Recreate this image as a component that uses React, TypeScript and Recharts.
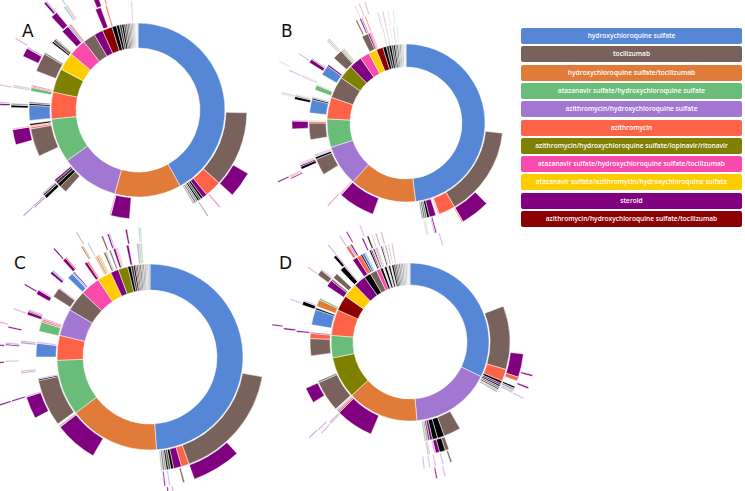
import { PieChart, Pie, Cell } from "recharts"

// colour keys used in the rings
const COLORS: Record<string, string> = {
  H: "#5687d6",
  T: "#7a625c",
  HT: "#e07b39",
  AH: "#69bd79",
  AZH: "#a277d2",
  AZ: "#ff6347",
  L: "#808000",
  P: "#f84bab",
  Y: "#ffcc00",
  S: "#800080",
  R: "#8b0000",
  k: "#000000",
  g1: "#333333",
  g2: "#555555",
  g3: "#777777",
  g4: "#999999",
  g5: "#bbbbbb",
  g6: "#dddddd",
  lp: "#e6a2d4",
  lv: "#c9a0e6",
  ls: "#f6a58c",
  lb: "#9ec0ee",
  lg: "#a8dcb0",
  lo: "#f2b27a",
}

const LEGEND_KEYS = ["H", "T", "HT", "AH", "AZH", "AZ", "L", "P", "Y", "S", "R"]
const LEGEND_LABELS = [
  "hydroxychloroquine sulfate",
  "tocilizumab",
  "hydroxychloroquine sulfate/tocilizumab",
  "atazanavir sulfate/hydroxychloroquine sulfate",
  "azithromycin/hydroxychloroquine sulfate",
  "azithromycin",
  "azithromycin/hydroxychloroquine sulfate/lopinavir/ritonavir",
  "atazanavir sulfate/hydroxychloroquine sulfate/tocilizumab",
  "atazanavir sulfate/azithromycin/hydroxychloroquine sulfate",
  "steroid",
  "azithromycin/hydroxychloroquine sulfate/tocilizumab",
]

type Seg = [number, string] // degrees, colour key ("" = empty)

// ---- panel A ----
const A1: Seg[] = [
  [151, "H"], [44.5, "HT"], [39, "AZH"], [29.5, "AH"], [18, "AZ"], [16, "L"], [12, "Y"], [11.6, "P"], [8.4, "T"], [6, "S"], [6.6, "R"],
  [3, "k"], [2, "k"], [1.5, "g1"], [1.5, "k"], [1.2, "g1"], [1.2, "g2"], [1, "g2"], [1, "g3"], [0.9, "g3"], [0.8, "g4"], [0.8, "g4"], [0.7, "g5"], [0.6, "g5"], [0.6, "g6"], [0.6, "g6"],
]
const A2: Seg[] = [
  [91.5, ""], [40.5, "T"], [9, "AZ"], [2.5, "S"], [1.2, "k"], [1, "g2"], [1, "k"], [1, "g4"], [1, "g3"], [1, "g5"],
  [34.8, ""], [10, "S"], [0.8, "lp"],
  [26.2, ""], [4, "T"], [2, "k"], [1.5, "g1"], [1, "S"],
  [15, ""], [15, "T"], [1, "AZ"], [0.8, "lp"], [1, "k"],
  [1.7, ""], [8, "H"], [1, "k"], [0.8, "g3"],
  [5.7, ""], [2, "AH"], [0.6, "AZ"], [0.6, "P"],
  [7.8, ""], [10, "T"], [0.8, "g3"],
  [6.2, ""], [1, "k"], [1.5, "T"], [0.6, "g4"],
  [4.9, ""], [4, "S"], [1.2, "lb"], [0.8, "AZ"],
  [15, ""], [3, "S"],
  [2.5, ""], [0.8, "AZ"],
  [13, ""], [0.6, "g5"],
]
const A3: Seg[] = [
  [120, ""], [12, "S"], [7.5, ""], [0.8, "lp"], [6, ""], [0.6, "g4"],
  [79.1, ""], [1.5, "k"], [1, "g2"], [0.6, "lv"],
  [25, ""], [7, "S"], [0.6, "lp"],
  [9.4, ""], [1.2, "k"], [0.8, "g4"],
  [7, ""], [0.8, "lg"], [0.6, "lp"],
  [13.6, ""], [4, "S"], [0.8, "lv"],
  [17.2, ""], [3, "S"],
  [4, ""], [0.8, "lb"], [0.6, "lg"], [0.6, "lo"],
  [12, ""], [2.5, "S"], [2.5, ""], [0.6, "AZ"], [13, ""], [0.6, "g5"],
]
const A4: Seg[] = [
  [226.5, ""], [0.6, "g4"], [0.6, "lv"],
  [44.3, ""], [0.8, "S"], [0.6, "g5"],
  [6.6, ""], [0.6, "lp"], [19.4, ""], [0.6, "lp"],
  [18, ""], [1, "S"], [0.6, "lv"], [5, ""], [0.6, "lb"],
]
const A5: Seg[] = [[227, ""], [0.6, "lv"], [44.5, ""], [0.6, "S"]]

// ---- panel B ----
const B1: Seg[] = [
  [173, "H"], [49, "HT"], [30, "AZH"], [21, "AH"], [16, "AZ"], [16, "T"], [10.5, "L"], [9.5, "S"], [7, "P"], [6, "Y"], [5, "R"],
  [2.5, "k"], [2, "g1"], [1.8, "k"], [1.5, "g2"], [1.3, "k"], [1.2, "g3"], [1.1, "g2"], [1, "g4"], [1, "g3"], [0.9, "g5"], [0.9, "g4"], [0.8, "g6"], [0.5, "g5"], [0.5, "g6"],
]
const B2: Seg[] = [
  [96, ""], [54, "T"], [10, "AZ"], [0.8, "lp"], [1.2, ""], [4, "S"], [1.5, "k"], [1.2, "g3"], [1, "g2"], [1, "g4"],
  [29.3, ""], [22, "S"], [0.8, "lp"], [0.6, "ls"],
  [14.6, ""], [10, "T"], [1.5, "k"], [0.8, "g5"], [0.8, "lv"],
  [8.9, ""], [10, "T"], [1, "AZ"], [0.8, "g6"],
  [4.2, ""], [8, "H"], [1, "k"], [0.8, "g5"],
  [4.2, ""], [3, "AH"], [0.6, "lp"],
  [6.4, ""], [6, "H"], [1, "S"],
  [5, ""], [6, "T"], [0.8, "AH"], [0.8, "lb"], [0.8, "lo"],
  [12.6, ""], [4, "T"], [1, "S"], [0.8, "P"], [0.8, "ls"],
  [6.4, ""], [0.6, "g5"], [1.5, ""], [0.6, "lv"], [1.5, ""], [0.6, "g6"], [1.5, ""], [0.6, "g5"], [1.5, ""], [0.6, "g6"],
]
const B3: Seg[] = [
  [135, ""], [15, "S"], [0.8, "ls"],
  [13.5, ""], [0.8, "S"], [0.6, "lv"], [3, ""], [0.6, "g5"], [0.6, "g6"],
  [53.1, ""], [0.8, "lp"],
  [22.2, ""], [1.5, "k"], [0.8, "S"], [0.6, "g5"], [0.6, "lp"],
  [17.5, ""], [4, "S"], [0.6, "lp"],
  [10.4, ""], [1.5, "k"], [0.8, "g4"], [0.6, "g6"],
  [9.1, ""], [0.6, "lv"], [0.6, "g6"],
  [6.8, ""], [2, "S"], [0.6, "g4"],
  [11.4, ""], [0.6, "lb"], [0.6, "lg"], [0.6, "ls"],
  [16, ""], [0.8, "T"], [1.4, ""], [0.8, "S"], [0.8, "lv"], [1, ""], [0.8, "ls"],
  [6, ""], [0.6, "g5"], [2, ""], [0.6, "lp"], [2, ""], [0.6, "g6"], [2, ""], [0.6, "g6"],
]
const B4: Seg[] = [
  [163, ""], [0.6, "lv"], [80.4, ""], [0.6, "S"], [0.6, "lp"], [0.6, "g5"],
  [37, ""], [0.6, "g6"], [0.6, "g5"], [10, ""], [0.6, "lv"], [8, ""], [0.6, "g5"],
  [33, ""], [0.6, "g6"], [1.5, ""], [0.6, "lp"], [2, ""], [0.6, "g5"],
]
const B5: Seg[] = [[245, ""], [0.6, "S"], [50, ""], [0.6, "g6"]]

// ---- panel C ----
const C1: Seg[] = [
  [176, "H"], [57, "HT"], [35, "AH"], [15.5, "AZ"], [17, "AZH"], [13.3, "T"], [12.3, "P"], [9, "Y"], [5, "S"], [6, "L"],
  [2, "k"], [1.5, "g1"], [1.2, "k"], [0.8, "R"], [1, "g2"], [1, "g3"], [1, "g2"], [1, "g4"], [0.9, "g3"], [0.9, "g4"], [0.9, "g5"], [0.8, "g4"], [0.9, "g5"],
]
const C2: Seg[] = [
  [100, ""], [60, "T"], [4, "AZ"], [4, "S"], [1.5, "k"], [1.2, "g2"], [1, "k"], [1, "g4"], [1, "g3"], [0.8, "g5"],
  [35.5, ""], [22, "S"], [1, "g5"],
  [1, ""], [24, "T"], [0.8, "k"], [0.6, "lv"],
  [10.6, ""], [7, "H"], [0.8, "lp"],
  [5.2, ""], [5, "AH"], [0.8, "HT"], [0.8, "P"], [0.6, "lv"],
  [11.8, ""], [5, "T"], [0.6, "lp"],
  [6.4, ""], [3, "H"], [0.8, "lb"], [0.6, "S"],
  [6.6, ""], [1.5, "S"], [0.8, "AZ"],
  [3.7, ""], [0.8, "lo"], [0.8, "HT"], [0.8, "lb"], [0.6, "Y"],
  [2, ""], [1, "T"], [0.6, "g5"],
  [1.4, ""], [0.8, "T"], [1.4, ""], [1.2, "S"], [0.6, "lv"], [0.6, "ls"],
  [4.4, ""], [1.2, "S"], [4, ""], [1.2, "lb"], [0.8, "ls"], [0.8, "lg"],
]
const C3: Seg[] = [
  [138, ""], [22, "S"], [4.5, ""], [0.8, "T"],
  [5.7, ""], [0.6, "lv"], [1.5, ""], [0.6, "S"],
  [68.3, ""], [10, "S"], [0.6, "lv"],
  [10, ""], [0.8, "g5"], [0.6, "lp"],
  [12, ""], [0.8, "g4"], [0.6, "lv"],
  [11.6, ""], [1.5, "S"], [0.6, "T"], [0.6, "lp"],
  [7.3, ""], [2, "S"], [0.6, "lp"],
  [8.4, ""], [1.2, "S"], [0.8, "lb"],
  [6, ""], [1.5, "S"], [0.6, "AZ"],
  [7.9, ""], [0.6, "T"], [0.6, "lo"], [2, ""], [0.6, "g5"],
  [6.2, ""], [0.8, "T"], [2, ""], [0.8, "S"], [0.6, "lp"],
  [6.8, ""], [0.8, "S"], [5, ""], [0.6, "lb"], [0.6, "lg"],
]
const C4: Seg[] = [
  [170, ""], [0.6, "lv"], [1.5, ""], [0.6, "S"],
  [79.3, ""], [0.6, "S"],
  [15.4, ""], [0.6, "g5"], [6, ""], [0.6, "S"], [0.6, "lv"],
  [5.8, ""], [0.6, "S"], [7, ""], [0.6, "lp"],
  [10, ""], [0.6, "S"], [17.8, ""], [0.6, "S"], [10.4, ""], [0.6, "g5"],
]
const C5: Seg[] = [[252, ""], [0.6, "S"], [15, ""], [0.6, "S"], [6, ""], [0.6, "S"], [8, ""], [0.6, "lp"]]

// ---- panel D ----
const D1: Seg[] = [
  [116, "H"], [59, "AZH"], [52.6, "HT"], [30.8, "L"], [16.6, "AH"], [19, "AZ"], [11.5, "R"], [10.5, "Y"], [9, "S"], [5, "k"], [5, "T"], [3, "P"],
  [2, "k"], [1.2, "g6"], [1.8, "k"], [1.2, "g6"], [1.5, "k"], [1, "g6"], [1.5, "k"], [1.2, "g1"], [1.2, "g2"], [1.2, "g3"], [1.2, "g3"], [1.2, "g4"], [1.2, "g4"], [1.2, "g5"], [1.2, "g5"], [1.2, "g6"], [1.1, "g6"],
]
const D2: Seg[] = [
  [69, ""], [37, "T"], [7, "AZ"], [1.5, "k"], [1, "S"], [1, "k"], [1, "g3"], [1, "g2"], [0.8, "g5"], [0.8, "g4"],
  [29.9, ""], [10, "T"], [4, "k"], [3, "k"], [1.5, "S"], [1.2, "g2"], [1, "g4"], [1, "g5"],
  [31.3, ""], [22, "S"], [1, "AZ"], [0.8, "g4"], [0.6, "lv"],
  [0.6, ""], [18, "T"], [1, "g3"],
  [15, ""], [10, "T"], [3, "AZ"], [0.6, "S"],
  [4.4, ""], [9, "H"], [1, "k"],
  [1, ""], [4, "HT"], [1, "AH"],
  [8, ""], [4, "S"], [1, "T"],
  [1, ""], [3, "T"],
  [3, ""], [3, "k"], [0.8, "lp"],
  [5.2, ""], [3, "S"], [2.5, "AZ"], [1, "k"], [1.5, "H"], [0.8, "lb"],
  [2.2, ""], [1, "k"], [0.8, "S"], [0.6, "lp"], [0.8, "k"], [0.6, "lo"], [0.8, "g4"], [0.6, "lv"],
  [1.8, ""], [0.8, "k"], [0.6, "lv"], [1, ""], [0.8, "g4"], [1, ""], [0.6, "ls"], [1.4, ""], [0.8, "g5"],
]
const D3: Seg[] = [
  [96, ""], [12, "S"], [2, "AZ"],
  [3, ""], [1, "k"], [1, "g4"], [0.8, "lv"], [0.8, "g5"],
  [43.4, ""], [2, "T"], [3, "k"], [2, "S"], [0.8, "lp"],
  [2, ""], [0.6, "lv"], [0.8, "g5"],
  [52.8, ""], [0.8, "lp"], [0.6, "g5"],
  [12.6, ""], [8, "S"],
  [29, ""], [0.8, "S"],
  [13.2, ""], [2, "k"], [0.6, "lv"],
  [14.4, ""], [3, "T"], [0.6, "lp"],
  [8.4, ""], [1.5, "k"], [0.6, "lv"],
  [5.9, ""], [1.5, "AZ"], [1, "lb"], [0.8, "S"],
  [5.7, ""], [0.8, "S"], [2, ""], [0.8, "k"], [1.5, ""], [0.6, "lo"], [1.5, ""], [0.8, "lv"], [2, ""], [0.8, "g5"],
]
const D4: Seg[] = [
  [105, ""], [0.8, "S"], [5, ""], [0.8, "S"], [4.5, ""], [0.6, "lv"],
  [44, ""], [0.8, "T"], [3, ""], [0.6, "lv"], [3, ""], [0.6, "lv"], [2, ""], [0.6, "g5"], [2, ""], [0.6, "lv"],
  [50, ""], [0.6, "lv"], [1.5, ""], [0.6, "lv"],
  [49, ""], [0.8, "S"], [13, ""], [0.6, "lv"], [16, ""], [0.6, "lp"], [13, ""], [0.6, "lv"],
  [6, ""], [0.6, "lv"], [3, ""], [0.6, "S"], [6, ""], [0.6, "lv"],
]
const D5: Seg[] = [[165, ""], [0.6, "lv"], [3, ""], [0.6, "S"], [57, ""], [0.6, "lv"], [50, ""], [0.6, "S"]]

const PANELS = [
  { label: "A", cx: 138, cy: 110, radii: [62, 87, 109, 127, 142, 156], rings: [A1, A2, A3, A4, A5], lx: 22, ly: 23 },
  { label: "B", cx: 406, cy: 123, radii: [56, 79, 97, 114, 128, 141], rings: [B1, B2, B3, B4, B5], lx: 281, ly: 23 },
  { label: "C", cx: 150, cy: 357, radii: [67, 93, 114, 130, 145, 158], rings: [C1, C2, C3, C4, C5], lx: 14, ly: 255 },
  { label: "D", cx: 410, cy: 342, radii: [57, 79, 100, 114, 127, 139], rings: [D1, D2, D3, D4, D5], lx: 279, ly: 255 },
]

function toData(ring: Seg[]) {
  const used = ring.reduce((s, [v]) => s + v, 0)
  const rows = ring.map(([v, k], i) => ({ name: `${k}-${i}`, value: v, key: k }))
  if (used < 360) rows.push({ name: "rest", value: 360 - used, key: "" })
  return rows
}

export default function App() {
  return (
    <div style={{ position: "fixed", left: 0, top: 0, width: 745, height: 491, background: "#fff" }}>
      <PieChart width={745} height={491} margin={{ top: 0, right: 0, bottom: 0, left: 0 }}>
        {PANELS.flatMap((p) =>
          p.rings.map((ring, i) => (
            <Pie
              key={`${p.label}-${i}`}
              data={toData(ring)}
              dataKey="value"
              nameKey="name"
              cx={p.cx}
              cy={p.cy}
              innerRadius={i === 0 ? p.radii[0] : p.radii[i] + 1}
              outerRadius={p.radii[i + 1]}
              startAngle={90}
              endAngle={-270}
              isAnimationActive={false}
              stroke="none"
            >
              {toData(ring).map((d, j) => (
                <Cell
                  key={j}
                  fill={d.key ? COLORS[d.key] : "none"}
                  stroke={d.key ? "#ffffff" : "none"}
                  strokeWidth={d.key ? 0.5 : 0}
                />
              ))}
            </Pie>
          ))
        )}
      </PieChart>

      {PANELS.map((p) => (
        <div
          key={p.label}
          style={{
            position: "absolute",
            left: p.lx,
            top: p.ly,
            fontFamily: "DejaVu Sans, sans-serif",
            fontSize: 17,
            lineHeight: 1,
            color: "#111",
          }}
        >
          {p.label}
        </div>
      ))}

      {LEGEND_LABELS.map((label, i) => (
        <div
          key={label}
          style={{
            position: "absolute",
            left: 521,
            top: 28 + i * 18.3,
            width: 221,
            height: 16,
            borderRadius: 2,
            background: COLORS[LEGEND_KEYS[i]],
            color: "#fff",
            fontFamily: "'Open Sans', sans-serif",
            fontWeight: 600,
            fontSize: 6.6,
            lineHeight: "16px",
            textAlign: "center",
            whiteSpace: "nowrap",
          }}
        >
          {label}
        </div>
      ))}
    </div>
  )
}
